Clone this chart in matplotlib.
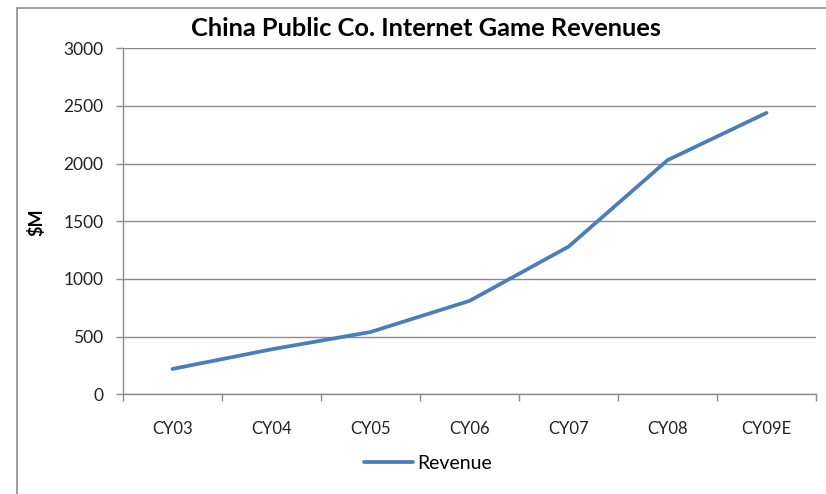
import matplotlib.pyplot as plt
import numpy as np
from matplotlib.patches import Rectangle

years = ["CY03", "CY04", "CY05", "CY06", "CY07", "CY08", "CY09E"]
revenue = [220, 390, 540, 810, 1280, 2030, 2440]

plt.rcParams["font.family"] = ["Lato", "DejaVu Sans"]

fig = plt.figure(figsize=(8.26, 4.94), dpi=100)
ax = fig.add_axes([123 / 826, 1 - 394.3 / 494, (816 - 123) / 826, (394.3 - 48.3) / 494])

grid_col = "#8c8c8c"
x = np.arange(len(years))
ax.plot(x, revenue, color="#4a7ebb", lw=2.7, solid_capstyle="round",
        solid_joinstyle="round", label="Revenue", zorder=3)

ax.set_xlim(-0.5, len(years) - 0.5)
ax.set_ylim(0, 3000)
ax.set_yticks(np.arange(0, 3001, 500))
ax.yaxis.grid(True, color=grid_col, lw=1)
ax.set_axisbelow(True)

# category labels centred, tick marks on the boundaries
ax.set_xticks(x)
ax.set_xticklabels(years)
ax.set_xticks(np.arange(-0.5, len(years)), minor=True)
ax.tick_params(axis="x", which="major", length=0, pad=19, labelsize=12, colors="#222222")
ax.tick_params(axis="x", which="minor", length=5, color=grid_col, width=1)
ax.tick_params(axis="y", length=5, color=grid_col, width=1, pad=9, labelsize=12.5,
               colors="#222222")

for side in ("top", "right"):
    ax.spines[side].set_visible(False)
for side in ("left", "bottom"):
    ax.spines[side].set_color(grid_col)
    ax.spines[side].set_linewidth(1)

fig.text(36 / 826, 1 - 222 / 494, "$M", rotation=90, ha="center", va="center",
         fontsize=13, fontweight="bold")
fig.text(426 / 826, 1 - 29 / 494, "China Public Co. Internet Game Revenues",
         ha="center", va="center", fontsize=18.3, fontweight="bold")

ax.legend(loc="center", bbox_to_anchor=(428 / 826, 1 - 463 / 494),
          bbox_transform=fig.transFigure, frameon=False, fontsize=14,
          handlelength=2.5, handletextpad=0.2)

# chart border
fig.patches.append(Rectangle((17 / 826, -0.1), 1.2, 1 - 8 / 494 + 0.1,
                             transform=fig.transFigure, fill=False,
                             edgecolor="#8c8c8c", lw=1.2))

fig.savefig("out.png", dpi=100)
